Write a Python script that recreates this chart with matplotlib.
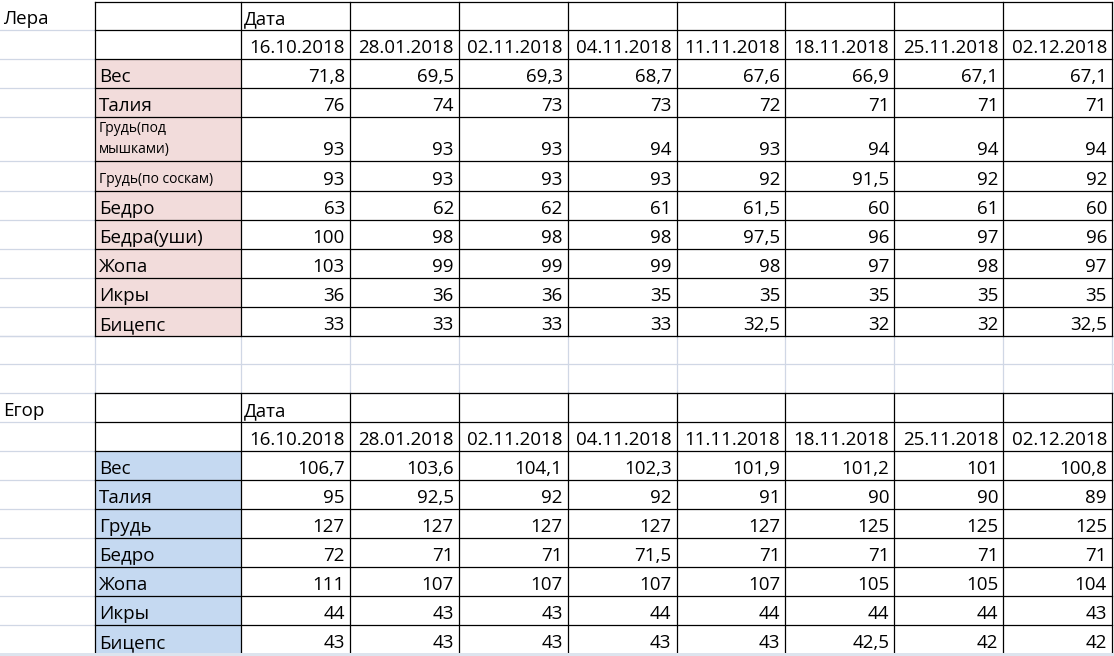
import matplotlib
matplotlib.use('Agg')
import matplotlib.pyplot as plt
from matplotlib.patches import Rectangle

plt.rcParams['font.family'] = ['Open Sans', 'DejaVu Sans']

# даты замеров
dates = ['16.10.2018', '28.01.2018', '02.11.2018', '04.11.2018',
         '11.11.2018', '18.11.2018', '25.11.2018', '02.12.2018']

# Лера
lera_labels = ['Вес', 'Талия', 'Грудь(под\nмышками)', 'Грудь(по соскам)', 'Бедро',
               'Бедра(уши)', 'Жопа', 'Икры', 'Бицепс']
lera_ves = [71.8, 69.5, 69.3, 68.7, 67.6, 66.9, 67.1, 67.1]
lera_talia = [76, 74, 73, 73, 72, 71, 71, 71]
lera_grud_pod = [93, 93, 93, 94, 93, 94, 94, 94]
lera_grud_po = [93, 93, 93, 93, 92, 91.5, 92, 92]
lera_bedro = [63, 62, 62, 61, 61.5, 60, 61, 60]
lera_bedra_ushi = [100, 98, 98, 98, 97.5, 96, 97, 96]
lera_zhopa = [103, 99, 99, 99, 98, 97, 98, 97]
lera_ikry = [36, 36, 36, 35, 35, 35, 35, 35]
lera_biceps = [33, 33, 33, 33, 32.5, 32, 32, 32.5]

# Егор
egor_labels = ['Вес', 'Талия', 'Грудь', 'Бедро', 'Жопа', 'Икры', 'Бицепс']
egor_ves = [106.7, 103.6, 104.1, 102.3, 101.9, 101.2, 101, 100.8]
egor_talia = [95, 92.5, 92, 92, 91, 90, 90, 89]
egor_grud = [127, 127, 127, 127, 127, 125, 125, 125]
egor_bedro = [72, 71, 71, 71.5, 71, 71, 71, 71]
egor_zhopa = [111, 107, 107, 107, 107, 105, 105, 104]
egor_ikry = [44, 43, 43, 44, 44, 44, 44, 43]
egor_biceps = [43, 43, 43, 43, 43, 42.5, 42, 42]

lera_rows = [lera_ves, lera_talia, lera_grud_pod, lera_grud_po, lera_bedro,
             lera_bedra_ushi, lera_zhopa, lera_ikry, lera_biceps]
egor_rows = [egor_ves, egor_talia, egor_grud, egor_bedro, egor_zhopa,
             egor_ikry, egor_biceps]

W, H = 1114, 656
GRID = '#d0d7e5'
FS = 13.5
FS_SMALL = 10

# колонки: серая слева, подписи, 8 дат
x_left = 95
x_lab = 241
col_w = (1112 - x_lab) / 8
xs = [x_lab + i * col_w for i in range(9)]


def fmt(v):
    return ('%g' % v).replace('.', ',')


def draw_table(ax, y0, heights, name, labels, rows, fill, small):
    ys = [y0]
    for h in heights:
        ys.append(ys[-1] + h)

    # заливка ячеек с подписями
    ax.add_patch(Rectangle((x_left, ys[2]), x_lab - x_left, ys[-1] - ys[2],
                           facecolor=fill, edgecolor='none', zorder=1))

    # серая сетка слева от таблицы
    for y in ys[1:]:
        ax.plot([0, x_left], [y, y], color=GRID, lw=0.9, zorder=2)

    # черные границы
    for y in ys:
        ax.plot([x_left, xs[-1]], [y, y], color='black', lw=0.9, zorder=3)
    for x in [x_left] + xs:
        ax.plot([x, x], [ys[0], ys[-1]], color='black', lw=0.9, zorder=3)

    ax.text(3, ys[1] - 6, name, fontsize=FS, ha='left', va='baseline')
    ax.text(x_lab + 3, ys[1] - 6, 'Дата', fontsize=FS, ha='left', va='baseline')
    for i, d in enumerate(dates):
        ax.text(xs[i + 1] - 5, ys[2] - 6, d, fontsize=FS, ha='right', va='baseline')

    for r, (lab, vals) in enumerate(zip(labels, rows)):
        top, bot = ys[r + 2], ys[r + 3]
        if lab in small:
            if '\n' in lab:
                a, b = lab.split('\n')
                ax.text(x_left + 4, top + 15, a, fontsize=FS_SMALL, ha='left', va='baseline')
                ax.text(x_left + 4, top + 36, b, fontsize=FS_SMALL, ha='left', va='baseline')
            else:
                ax.text(x_left + 4, bot - 8, lab, fontsize=FS_SMALL, ha='left', va='baseline')
        else:
            ax.text(x_left + 4, bot - 6, lab, fontsize=FS, ha='left', va='baseline')
        for i, v in enumerate(vals):
            ax.text(xs[i + 1] - 5, bot - 6, fmt(v), fontsize=FS, ha='right', va='baseline')
    return ys


fig = plt.figure(figsize=(W / 100, H / 100), dpi=100)
ax = fig.add_axes([0, 0, 1, 1])
ax.set_xlim(0, W)
ax.set_ylim(H, 0)
ax.axis('off')

ys1 = draw_table(ax, 2, [28, 29, 29, 29, 44, 30, 29, 29, 29, 29, 29], 'Лера',
                 lera_labels, lera_rows, '#f2dcdb',
                 ['Грудь(под\nмышками)', 'Грудь(по соскам)'])

# пустые строки между таблицами
gap = [ys1[-1], ys1[-1] + 28, ys1[-1] + 57]
for y in gap:
    ax.plot([0, W], [y, y], color=GRID, lw=0.9, zorder=0)
for x in [x_left] + xs:
    ax.plot([x, x], [gap[0], gap[-1]], color=GRID, lw=0.9, zorder=0)

draw_table(ax, gap[-1], [29] * 9, 'Егор', egor_labels, egor_rows, '#c5d9f1', [])

# полоска внизу окна
ax.add_patch(Rectangle((0, 652.5), W, 4, facecolor='#dde4ee', edgecolor='none', zorder=5))

fig.savefig('out.png', dpi=100)
